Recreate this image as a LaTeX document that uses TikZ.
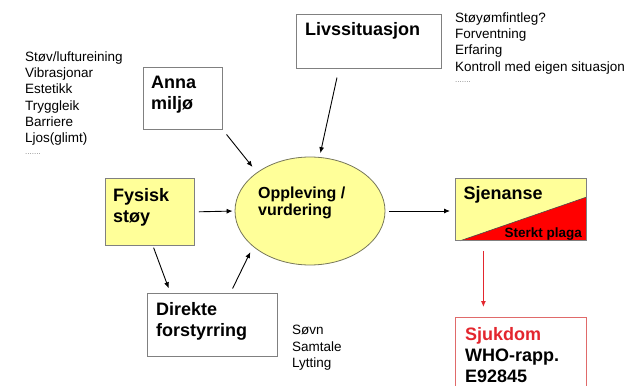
\documentclass[tikz,border=0pt]{standalone}
\usepackage{fontspec}
\setmainfont{Liberation Sans}
\usetikzlibrary{shapes.geometric, arrows.meta}
\definecolor{paleyellow}{HTML}{FFFF99}
\definecolor{framegray}{HTML}{808080}
\definecolor{ovalgray}{HTML}{77775A}
\definecolor{alertred}{HTML}{E3262E}
\definecolor{plagared}{HTML}{FF0000}
\definecolor{sickframe}{HTML}{E06A6A}

\begin{document}
\begin{tikzpicture}[x=1pt, y=-1pt,
  stagebox/.style={draw=framegray, line width=0.8pt, anchor=north west, inner sep=0pt},
  stagetitle/.style={anchor=north west, inner sep=0pt, align=left, font=\fontsize{18}{21}\selectfont\bfseries},
  factorlist/.style={anchor=north west, inner sep=0pt, align=left, font=\fontsize{13.5}{16.2}\selectfont},
  link/.style={-{Latex[length=6pt,width=5pt]}, line width=0.9pt}]
\useasboundingbox (0,0) rectangle (628,385);

% Boxes of the model
\node[stagebox, minimum width=145pt, minimum height=54pt] (liv) at (296,14) {};
\node[stagetitle] (livtext) at (305,22.4) {Livssituasjon};
\node[stagebox, minimum width=79pt, minimum height=62pt] (anna) at (143,67) {};
\node[stagetitle] (annatext) at (151,76.2) {Anna\\miljø};
\node[stagebox, fill=paleyellow, minimum width=89pt, minimum height=67pt] (fys) at (105,178) {};
\node[stagetitle] (fystext) at (113,188.4) {Fysisk\\støy};
\node[stagebox, minimum width=130pt, minimum height=63pt] (dir) at (147,293) {};
\node[stagetitle] (dirtext) at (156,302.6) {Direkte\\forstyrring};

% Sjenanse with the red wedge
\node[stagebox, fill=paleyellow, minimum width=131pt, minimum height=62pt] (sjen) at (455,178) {};
\fill[plagared] ([xshift=5pt]sjen.south west) -- ([yshift=-19pt]sjen.north east) -- (sjen.south east) -- cycle;
\draw[black!70, line width=0.6pt] ([xshift=5pt]sjen.south west) -- ([yshift=-19pt]sjen.north east);
\draw[framegray, line width=0.8pt] (sjen.south west) rectangle (sjen.north east);
\node[stagetitle] (sjentext) at (463.5,186.2) {Sjenanse};
\node[anchor=base east, inner sep=0pt, font=\fontsize{13.5}{16}\selectfont\bfseries] (plaga) at (582,237) {Sterkt plaga};

\node[stagebox, draw=sickframe, minimum width=131pt, minimum height=90pt] (sjuk) at (455,317) {};
\node[stagetitle] (sjuktext) at (465,326.9) {\textcolor{alertred}{Sjukdom}\\WHO-rapp.\\E92845};

% Oppleving ellipse
\node[ellipse, draw=ovalgray, fill=paleyellow, line width=0.8pt, minimum width=150pt, minimum height=108pt, inner sep=0pt] (oppl) at (310,211) {};
\node[stagetitle, font=\fontsize{16}{17.7}\selectfont\bfseries] (oppltext) at (258,186.3) {Oppleving /\\vurdering};

% Factor lists
\node[factorlist] (envlist) at (25,51.6) {Støv/luftureining\\Vibrasjonar\\Estetikk\\Tryggleik\\Barriere\\Ljos(glimt)\\[-4pt]{\fontsize{8}{8}\selectfont\color{gray}.......}};
\node[factorlist] (lifelist) at (455,12.6) {Støyømfintleg?\\Forventning\\Erfaring\\Kontroll med eigen situasjon\\[-5pt]{\fontsize{8}{8}\selectfont\color{gray}.......}};
\node[factorlist] (disturblist) at (292,325.2) {Søvn\\Samtale\\Lytting};

% Arrows
\draw[link, shorten <=6pt, shorten >=7pt] (anna.south east) -- (oppl.144);
\draw[link, shorten <=9pt, shorten >=4pt] ([xshift=-30pt]liv.south) -- (oppl.80);
\draw[link, shorten <=4pt, shorten >=2pt] (fys.east) -- (oppl.west);
\draw[link, shorten <=2pt, shorten >=5pt] ([xshift=3pt]fys.south) -- ([xshift=-42pt]dir.north);
\draw[link, shorten <=5pt, shorten >=6pt] ([xshift=18pt]dir.north) -- (oppl.212);
\draw[link, shorten <=4pt, shorten >=5pt] (oppl.east) -- (oppl.east -| sjen.west);
\draw[link, alertred, shorten <=10pt, shorten >=10pt] ([xshift=-37.5pt]sjen.south) -- ([xshift=-37.5pt]sjuk.north);
\end{tikzpicture}
\end{document}
